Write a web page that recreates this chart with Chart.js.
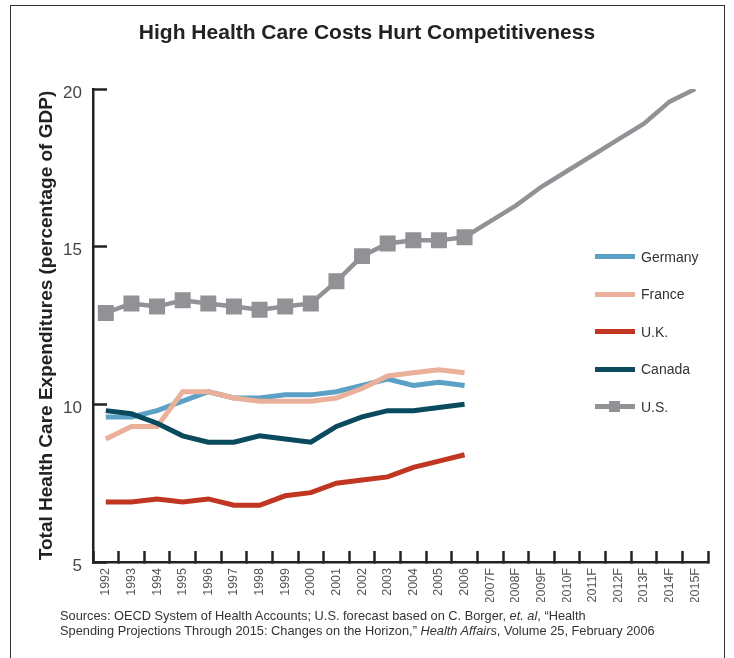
<!DOCTYPE html>
<html>
<head>
<meta charset="utf-8">
<script src="https://cdn.jsdelivr.net/npm/chart.js@4.4.1/dist/chart.umd.min.js"></script>
<style>
  html, body { margin: 0; padding: 0; background: #fff; }
  #wrap { position: relative; width: 734px; height: 658px; overflow: hidden; font-family: "Liberation Sans", Arial, sans-serif; }
  #c { position: absolute; left: 0; top: 0; }
  #frame { position: absolute; left: 10px; top: 5px; width: 715px; height: 700px; border: 1.5px solid #333; box-sizing: border-box; pointer-events: none; }
  #legend { position: absolute; left: 595px; top: 238px; color: #333; font-size: 14px; }
  .item { position: relative; height: 37.5px; display: flex; align-items: center; }
  .swatch { position: relative; width: 40px; height: 5px; margin-right: 6px; }
  .mark { position: absolute; left: 14px; top: -3px; width: 11px; height: 11px; }
  #note { position: absolute; left: 60px; top: 608px; font-size: 12.8px; line-height: 15px; color: #333; white-space: nowrap; }
</style>
</head>
<body>
<div id="wrap">
  <canvas id="c" width="734" height="658"></canvas>
  <div id="frame"></div>
  <div id="legend"></div>
  <div id="note">Sources: OECD System of Health Accounts; U.S. forecast based on C. Borger, <i>et. al</i>, “Health<br>Spending Projections Through 2015: Changes on the Horizon,” <i>Health Affairs</i>, Volume 25, February 2006</div>
</div>
<script>
const years = ['1992','1993','1994','1995','1996','1997','1998','1999','2000','2001','2002','2003','2004','2005','2006',
  '2007F','2008F','2009F','2010F','2011F','2012F','2013F','2014F','2015F'];
const germany = [9.6, 9.6, 9.8, 10.1, 10.4, 10.2, 10.2, 10.3, 10.3, 10.4, 10.6, 10.8, 10.6, 10.7, 10.6];
const france  = [8.9, 9.3, 9.3, 10.4, 10.4, 10.2, 10.1, 10.1, 10.1, 10.2, 10.5, 10.9, 11.0, 11.1, 11.0];
const uk      = [6.9, 6.9, 7.0, 6.9, 7.0, 6.8, 6.8, 7.1, 7.2, 7.5, 7.6, 7.7, 8.0, 8.2, 8.4];
const canada  = [9.8, 9.7, 9.4, 9.0, 8.8, 8.8, 9.0, 8.9, 8.8, 9.3, 9.6, 9.8, 9.8, 9.9, 10.0];
const us      = [12.9, 13.2, 13.1, 13.3, 13.2, 13.1, 13.0, 13.1, 13.2, 13.9, 14.7, 15.1, 15.2, 15.2, 15.3,
  15.8, 16.3, 16.9, 17.4, 17.9, 18.4, 18.9, 19.6, 20.0];
const yTicks = [5, 10, 15, 20];
const lastActual = '2006';

const FONT = '"Liberation Sans", Arial, sans-serif';
const series = [
  { label: 'Germany', data: germany, color: '#5ba0c5', order: 4 },
  { label: 'France',  data: france,  color: '#eab09a', order: 3 },
  { label: 'U.K.',    data: uk,      color: '#c03620', order: 2 },
  { label: 'Canada',  data: canada,  color: '#0a4a5e', order: 1 },
  { label: 'U.S.',    data: us,      color: '#929196', order: 0, marker: true }
];
const lastIdx = years.indexOf(lastActual);

const datasets = series.map(s => ({
  label: s.label,
  data: s.data,
  borderColor: s.color,
  backgroundColor: s.color,
  borderWidth: s.marker ? 4.5 : 5,
  tension: 0,
  order: s.order,
  pointStyle: 'rect',
  pointRadius: s.marker ? (ctx => ctx.dataIndex <= lastIdx ? 11.3 : 0) : 0,
  pointHoverRadius: s.marker ? (ctx => ctx.dataIndex <= lastIdx ? 11.3 : 0) : 0,
  pointBorderWidth: 0
}));

new Chart(document.getElementById('c'), {
  type: 'line',
  data: { labels: years, datasets },
  options: {
    responsive: false,
    animation: false,
    events: [],
    layout: { padding: { left: 0, right: 0, top: 0, bottom: 56 } },
    plugins: {
      legend: { display: false },
      tooltip: { enabled: false },
      title: {
        display: true,
        text: 'High Health Care Costs Hurt Competitiveness',
        color: '#222',
        font: { family: FONT, size: 21, weight: 'bold', lineHeight: 1.2 },
        padding: { top: 21, bottom: 42.8 }
      }
    },
    scales: {
      x: {
        type: 'category',
        offset: true,
        grid: { offset: true, drawOnChartArea: false, drawTicks: true, tickLength: -11, tickWidth: 2.5, tickColor: '#222' },
        border: { display: true, color: '#222', width: 2.5 },
        ticks: {
          autoSkip: false, minRotation: 90, maxRotation: 90, padding: 17,
          color: '#555', font: { family: FONT, size: 12.5 }
        },
        afterFit: s => { s.height = 40; }
      },
      y: {
        min: 5, max: 20,
        afterBuildTicks: s => { s.ticks = yTicks.map(v => ({ value: v })); },
        grid: { drawOnChartArea: false, drawTicks: true, tickLength: -14, tickWidth: 2.5, tickColor: '#222' },
        border: { display: true, color: '#222', width: 2.5 },
        ticks: { padding: 25, labelOffset: 4, color: '#444', font: { family: FONT, size: 17 } },
        title: {
          display: true,
          text: 'Total Health Care Expenditures (percentage of GDP)',
          color: '#222',
          font: { family: FONT, size: 19, weight: 'bold', lineHeight: 1.2 },
          padding: { top: 35, bottom: 0 }
        },
        afterFit: s => { s.width = 93; }
      },
      spacer: {
        type: 'linear',
        position: 'right',
        display: true,
        grid: { display: false, drawTicks: false },
        border: { display: false },
        ticks: { display: false },
        afterFit: s => { s.width = 26; }
      }
    }
  }
});

// HTML legend built from the dataset definitions
const lg = document.getElementById('legend');
series.forEach(s => {
  const it = document.createElement('div'); it.className = 'item';
  const sw = document.createElement('div'); sw.className = 'swatch'; sw.style.background = s.color;
  if (s.marker) { const m = document.createElement('div'); m.className = 'mark'; m.style.background = s.color; sw.appendChild(m); }
  const tx = document.createElement('span'); tx.textContent = s.label;
  it.appendChild(sw); it.appendChild(tx); lg.appendChild(it);
});
</script>
</body>
</html>
